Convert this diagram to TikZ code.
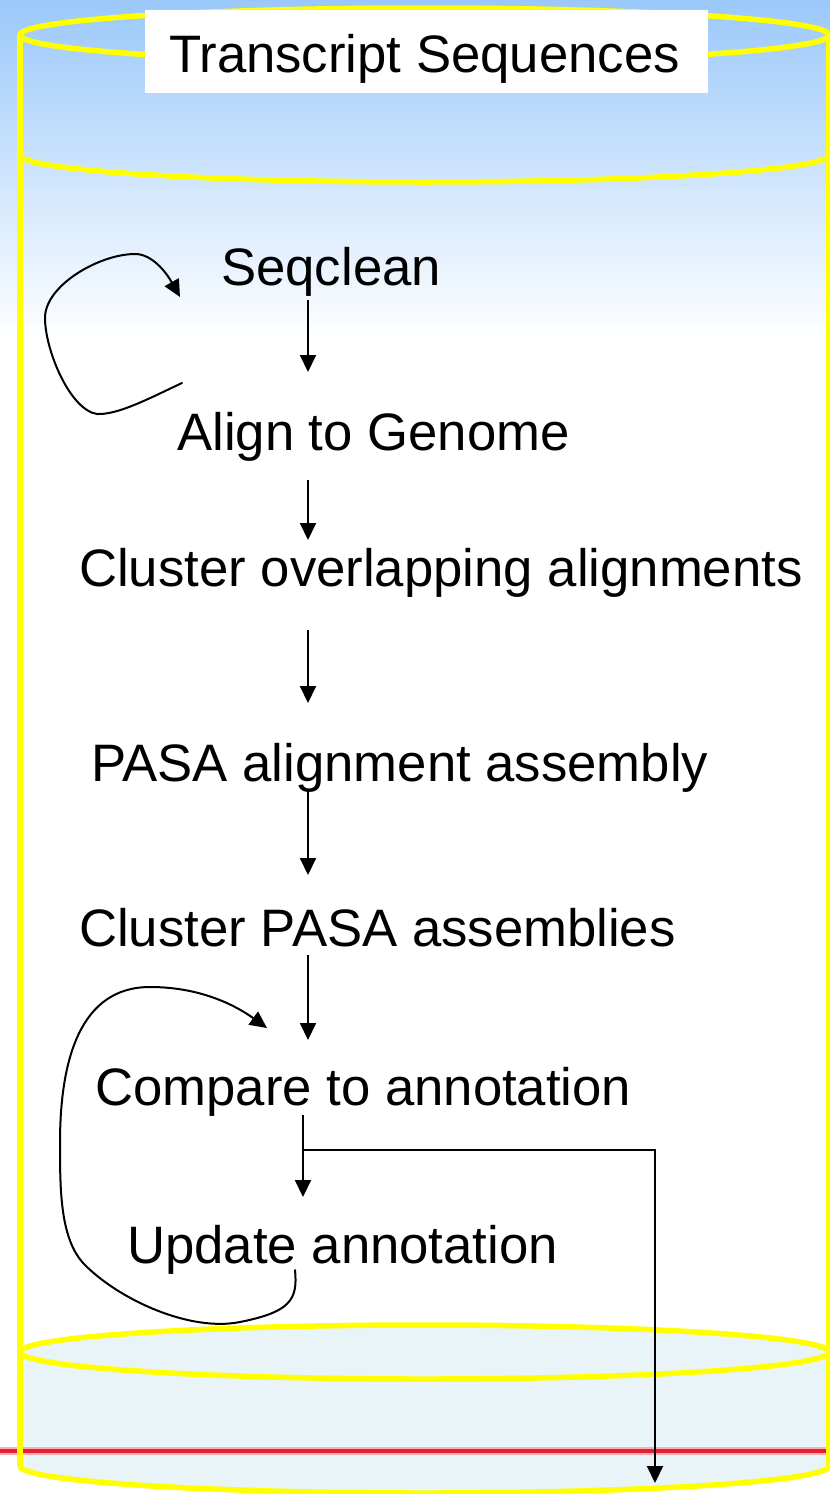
\documentclass[tikz,border=0pt]{standalone}
\usepackage{fontspec}
\setmainfont{Liberation Sans}
\usetikzlibrary{arrows.meta,calc}
\definecolor{bgblue}{RGB}{155,200,250}
\definecolor{hatch}{RGB}{232,244,247}
\definecolor{redline}{RGB}{232,30,48}
\definecolor{cylyellow}{RGB}{255,255,0}
\begin{document}
\begin{tikzpicture}[x=1pt,y=-1pt,
  lbl/.style={anchor=base west, inner sep=0pt, font=\fontsize{52.7}{60}\selectfont},
  tip/.tip={Triangle[length=17pt,width=16pt]},
  arr/.style={line width=2pt, -tip},
  loopline/.style={line width=2pt, line cap=round},
  cyl/.style={draw=cylyellow, line width=5.5pt},
]
\useasboundingbox (0,0) rectangle (830,1494);
\fill[white] (0,0) rectangle (830,1494);
\shade[top color=bgblue, bottom color=white] (0,0) rectangle (830,340);

% bottom fill of the cylinder
\fill[hatch] (20,1352) -- (20,1466) arc[start angle=180,end angle=0,x radius=404.5,y radius=27]
  -- (829,1352) arc[start angle=0,end angle=-180,x radius=404.5,y radius=27] -- cycle;

% red line
\draw[redline!35, line width=8pt] (0,1451) -- (830,1451);
\draw[redline, line width=3.5pt] (0,1451) -- (830,1451);

% cylinder outline
\draw[cyl] (20,35) -- (20,1466);
\draw[cyl] (829,35) -- (829,1466);
\draw[cyl] (424.5,35) ellipse[x radius=404.5, y radius=27];
\draw[cyl] (20,155) arc[start angle=180,end angle=0,x radius=404.5,y radius=27];
\draw[cyl] (424.5,1352) ellipse[x radius=404.5, y radius=27];
\draw[cyl] (20,1466) arc[start angle=180,end angle=0,x radius=404.5,y radius=27];

% title
\node[fill=white, inner sep=0pt, minimum width=563pt, minimum height=83pt] (box) at (426.5,51.5) {};
\node[lbl] (title) at (169,72) {Transcript Sequences};

% steps
\node[lbl] (seq) at (221,285) {Seqclean};
\node[lbl] (align) at (177,450) {Align to Genome};
\node[lbl] (clu) at (79,586) {Cluster overlapping alignments};
\node[lbl] (pasa) at (91,781) {PASA alignment assembly};
\node[lbl] (clp) at (79,946) {Cluster PASA assemblies};
\node[lbl] (cmp) at (95,1105) {Compare to annotation};
\node[lbl] (upd) at (127,1263) {Update annotation};

\coordinate (ax) at (308,0);
\coordinate (bx) at (303,0);
\draw[arr] ($(seq.base -| ax)+(0,15)$) -- ($(align.base -| ax)+(0,-78)$);
\draw[arr] ($(align.base -| ax)+(0,30)$) -- ($(clu.base -| ax)+(0,-46)$);
\draw[arr] ($(clu.base -| ax)+(0,44)$) -- ($(pasa.base -| ax)+(0,-78)$);
\draw[arr] ($(pasa.base -| ax)+(0,9)$) -- ($(clp.base -| ax)+(0,-71)$);
\draw[arr] ($(clp.base -| ax)+(0,9)$) -- ($(cmp.base -| ax)+(0,-65)$);
\draw[arr] ($(cmp.base -| bx)+(0,10)$) -- ($(upd.base -| bx)+(0,-66)$);
\coordinate (br) at ($(cmp.base -| bx)+(0,45)$);
\coordinate (out) at (655,1483);
\draw[arr] (br) -| (out);

% feedback loops
\draw[loopline, -tip]
  (182,383) .. controls (150,398) and (118,415) .. (97,414)
  .. controls (70,410) and (45,350) .. (45,318)
  .. controls (45,285) and (100,254) .. (135,254)
  .. controls (152,254) and (166,272) .. (180,297);
\draw[loopline, -tip]
  (295,1270) .. controls (298,1300) and (290,1312) .. (240,1322)
  .. controls (190,1332) and (120,1300) .. (85,1265)
  .. controls (60,1240) and (60,1190) .. (60,1143)
  .. controls (60,1060) and (80,987) .. (150,987)
  .. controls (200,987) and (235,1005) .. (267,1028);
\end{tikzpicture}
\end{document}
